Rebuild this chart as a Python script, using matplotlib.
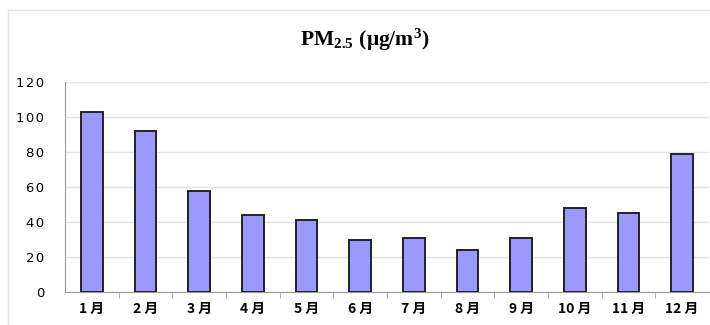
import matplotlib.pyplot as plt
from matplotlib.patches import Rectangle

months = ["1月", "2月", "3月", "4月", "5月", "6月", "7月", "8月", "9月", "10月", "11月", "12月"]
pm25 = [103, 92, 58, 44, 41, 30, 31, 24, 31, 48, 45, 79]
yticks = [0, 20, 40, 60, 80, 100, 120]

plt.rcParams["mathtext.fontset"] = "custom"
plt.rcParams["mathtext.rm"] = "Liberation Serif:bold"
plt.rcParams["mathtext.it"] = "Liberation Serif:bold"
plt.rcParams["mathtext.bf"] = "Liberation Serif:bold"

fig = plt.figure(figsize=(7.1, 3.25), dpi=100)
# thin frame around the chart area
fig.patches.append(Rectangle((8 / 710, -0.05), 1.0, 1 - 10 / 325 + 0.05, transform=fig.transFigure,
                             fill=False, edgecolor="#e4e4e4", linewidth=1.0))

ax = fig.add_axes([65 / 710, 1 - 292 / 325, 644 / 710, 210 / 325])
x = list(range(len(months)))
ax.bar(x, pm25, width=0.4, color="#9999ff", edgecolor="#222222", linewidth=1.4, zorder=3)

ax.set_xlim(-0.5, len(months) - 0.5)
ax.set_ylim(0, 120)
ax.set_yticks(yticks)
ax.set_yticklabels(["\u200a".join(str(v)) for v in yticks], fontsize=9.5, family="DejaVu Sans")
ax.yaxis.grid(True, color="#e2e2e2", linewidth=1.0, zorder=0)
ax.tick_params(axis="y", length=0, pad=15)

ax.set_xticks(x)
ax.set_xticklabels([m.replace("月", " 月") for m in months], fontsize=10,
                   family=["Noto Sans CJK SC", "DejaVu Sans"], fontweight="bold")
ax.set_xticks([i + 0.5 for i in x[:-1]], minor=True)
ax.tick_params(axis="x", which="major", length=0, pad=7)
ax.tick_params(axis="x", which="minor", length=4, color="#999999", direction="out")

for side in ["top", "right"]:
    ax.spines[side].set_visible(False)
ax.spines["left"].set_color("#999999")
ax.spines["bottom"].set_color("#999999")
ax.set_axisbelow(True)

fig.text(365 / 710, 1 - 40 / 325, r"$\mathrm{PM_{2.5}\ (\mu g/m^{3})}$",
         ha="center", va="center", fontsize=15.5)

fig.savefig("out.png", dpi=100)
